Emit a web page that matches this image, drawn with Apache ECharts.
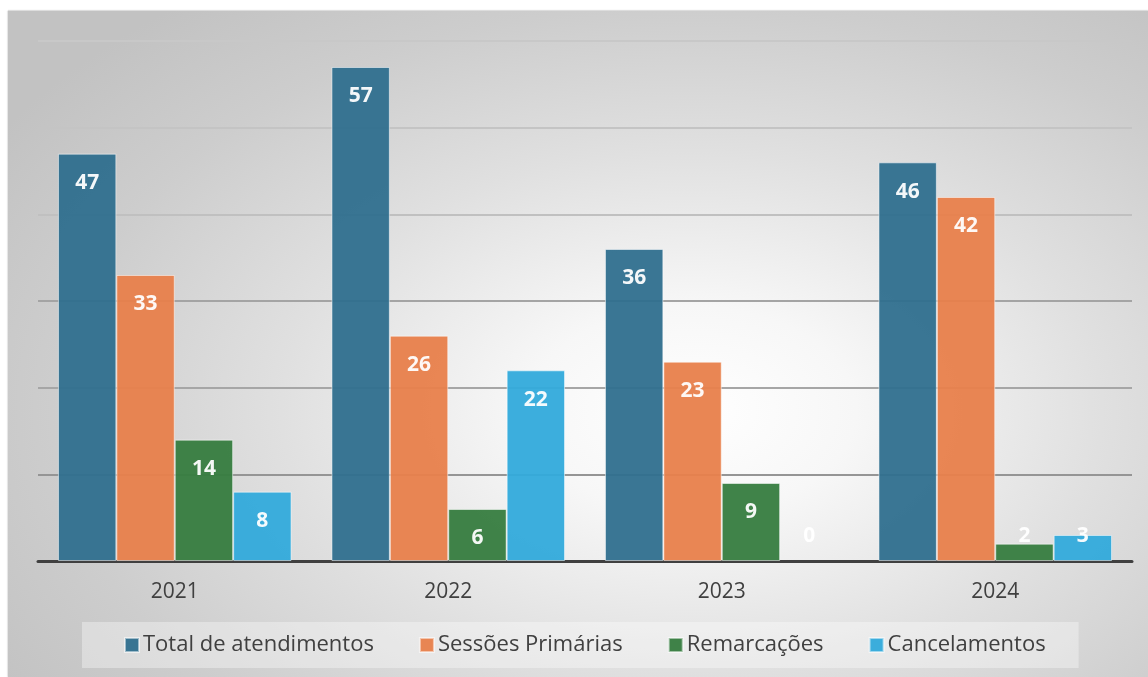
<!DOCTYPE html>
<html>
<head>
<meta charset="utf-8">
<script src="https://cdn.jsdelivr.net/npm/echarts@6/dist/echarts.min.js"></script>
<style>
  html, body { margin: 0; padding: 0; background: #fff; }
  #wrap {
    position: absolute; left: 8px; top: 11px; width: 1140px; height: 666px;
    background: radial-gradient(ellipse 72% 78% at 60% 60%, #ffffff 0%, #f7f7f7 20%, #e0e0e0 50%, #cdcdcd 78%, #c2c2c2 100%);
    box-shadow: 0 -1px 1px rgba(0,0,0,0.12), -1px 0 1px rgba(0,0,0,0.08);
  }
  #chart { width: 1140px; height: 666px; }
</style>
</head>
<body>
<div id="wrap"><div id="chart"></div></div>
<script>
  const years = ['2021', '2022', '2023', '2024']
  const seriesNames = ['Total de atendimentos', 'Sessões Primárias', 'Remarcações', 'Cancelamentos']
  const totalAtendimentos = [47, 57, 36, 46]
  const sessoesPrimarias = [33, 26, 23, 42]
  const remarcacoes = [14, 6, 9, 2]
  const cancelamentos = [8, 22, 0, 3]
  const colors = ['#2f6f8e', '#e8804b', '#367c3f', '#31aadb']

  const font = 'Open Sans, Liberation Sans, Arial, sans-serif'

  // grid lines get lighter towards the top, like the original
  const splitColors = ['#999999', '#959595', '#a6a6a6', '#a4a4a4', '#c0c0c0', '#c4c4c4', '#c8c8c8']

  // short bars: Excel pushes the label above the bar base
  const toData = (arr) => arr.map(v => v < 5
    ? { value: v, label: { position: 'insideBottom', distance: 14 }, itemStyle: v === 0 ? { borderWidth: 0 } : {} }
    : v)

  const makeSeries = (name, arr, i) => ({
    name,
    type: 'bar',
    data: toData(arr),
    barGap: '0%',
    barCategoryGap: '14.6%',
    itemStyle: {
      color: colors[i],
      opacity: 0.95,
      borderColor: 'rgba(255,255,255,0.55)',
      borderWidth: 1
    },
    label: {
      show: true,
      position: 'insideTop',
      distance: 19,
      color: '#ffffff',
      fontFamily: font,
      fontWeight: 'bold',
      fontSize: 21
    }
  })

  const myChart = echarts.init(document.getElementById('chart'))
  myChart.setOption({
    backgroundColor: 'transparent',
    animation: false,
    grid: { left: 30, right: 16, top: 30, bottom: 116, containLabel: false },
    legend: {
      left: 74,
      top: 611,
      data: seriesNames,
      icon: 'rect',
      itemWidth: 14,
      itemHeight: 14,
      itemGap: 45,
      padding: [12, 33, 12, 42],
      backgroundColor: 'rgba(255,255,255,0.35)',
      textStyle: {
        color: '#404040',
        fontSize: 22,
        fontFamily: font,
        padding: [0, 0, 0, -1]
      }
    },
    xAxis: {
      type: 'category',
      data: years,
      axisLine: { show: true, lineStyle: { color: '#404040', width: 3 } },
      axisTick: { show: false },
      axisLabel: {
        color: '#404040',
        fontSize: 21,
        margin: 21,
        fontFamily: font
      }
    },
    yAxis: {
      type: 'value',
      min: 0,
      max: 60,
      interval: 10,
      axisLine: { show: false },
      axisTick: { show: false },
      axisLabel: { show: false },
      splitLine: { show: true, lineStyle: { color: splitColors, width: 2 } }
    },
    series: [
      makeSeries(seriesNames[0], totalAtendimentos, 0),
      makeSeries(seriesNames[1], sessoesPrimarias, 1),
      makeSeries(seriesNames[2], remarcacoes, 2),
      makeSeries(seriesNames[3], cancelamentos, 3)
    ]
  })
  window.addEventListener('resize', () => { myChart.resize() })
</script>
</body>
</html>
